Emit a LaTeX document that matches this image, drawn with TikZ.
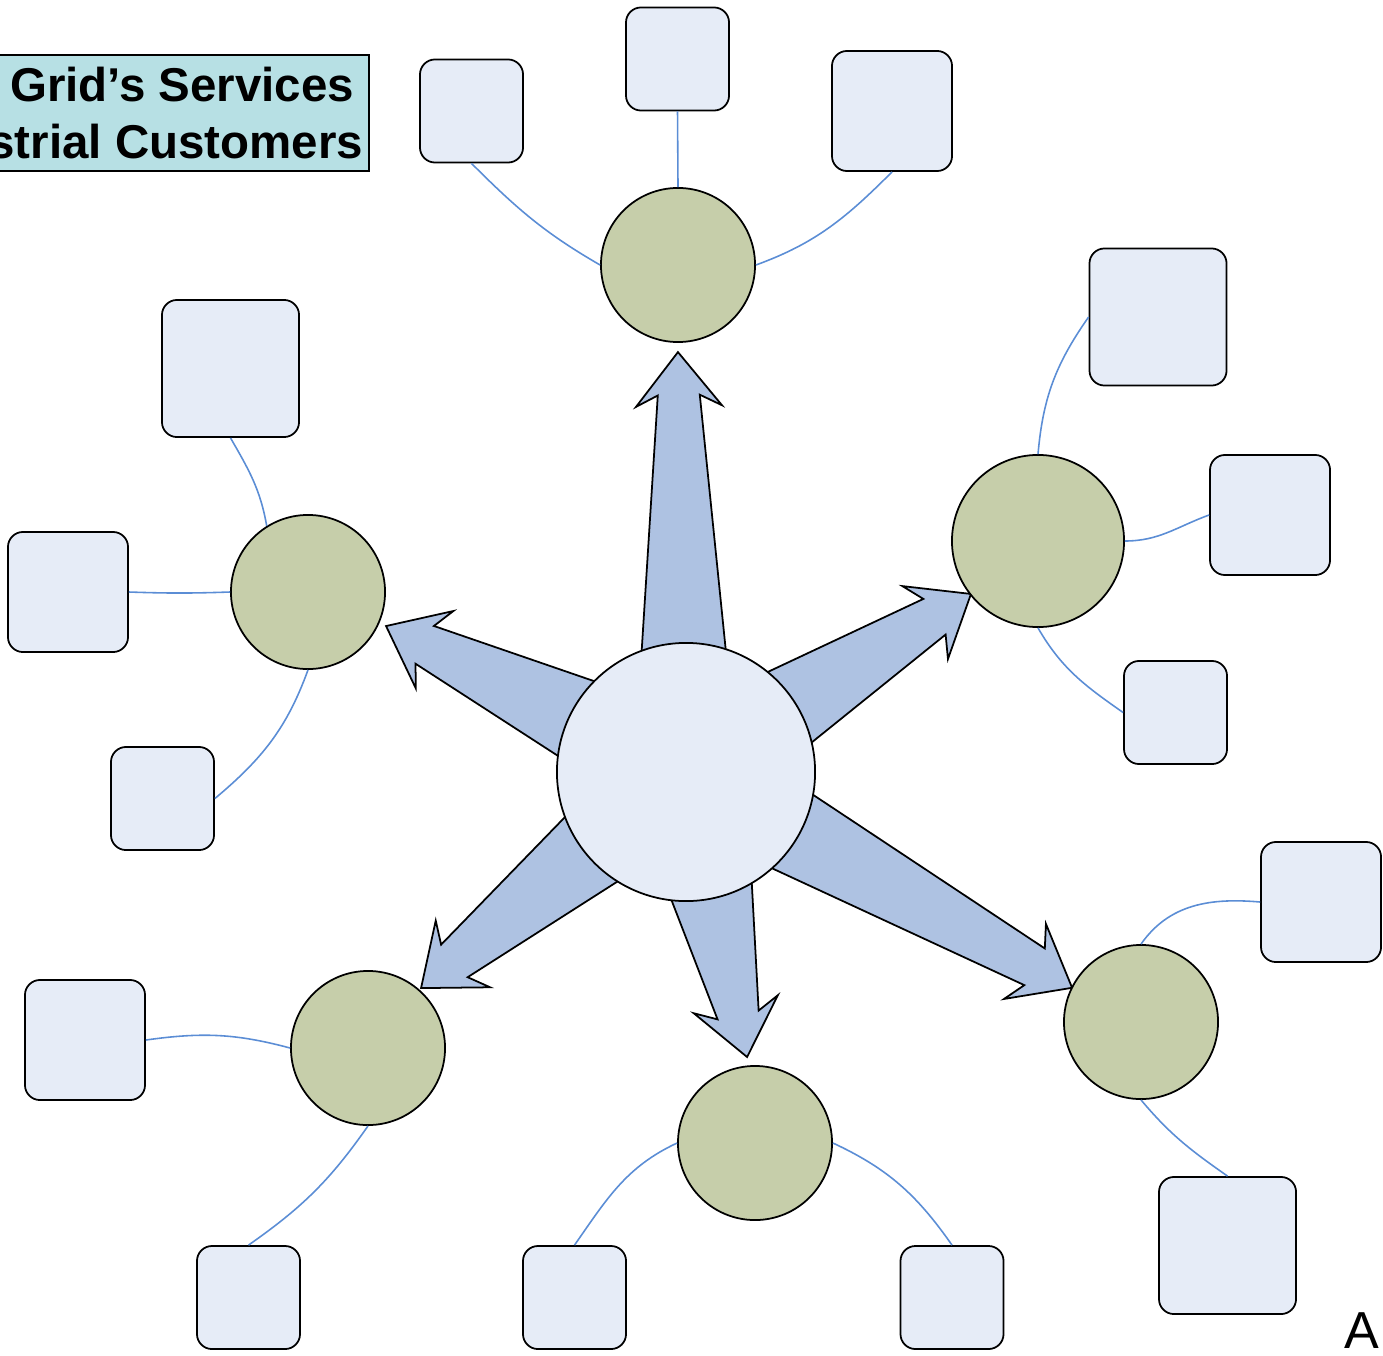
\documentclass[tikz,border=0pt]{standalone}
\usepackage{fontspec}
\setmainfont{Liberation Sans}
\usepackage{xcolor}
\usepackage{tikz}
\definecolor{srvfill}{RGB}{230,236,247}
\definecolor{hubfill}{RGB}{198,206,170}
\definecolor{spokefill}{RGB}{174,194,226}
\definecolor{linkcol}{RGB}{91,141,213}
\definecolor{titlefill}{RGB}{183,224,228}
\tikzstyle{srv} =[draw,line width=.5pt,fill=srvfill,rounded corners=1.5mm,inner sep=0pt]
\tikzstyle{srvs}=[srv,minimum size=1.03cm]
\tikzstyle{srvm}=[srv,minimum size=1.2cm]
\tikzstyle{srvl}=[srv,minimum size=1.37cm]
\tikzstyle{hub} =[draw,line width=.5pt,circle,fill=hubfill,minimum size=1.54cm,inner sep=0pt]
\tikzstyle{core}=[draw,line width=.5pt,circle,fill=srvfill,minimum size=2.58cm,inner sep=0pt]
\tikzstyle{spoke}=[draw,line width=.5pt,fill=spokefill,line join=miter]
\tikzstyle{link}=[line width=.45pt,draw=linkcol]
\tikzstyle{title}=[draw,line width=.5pt,fill=titlefill,align=right,inner xsep=.6mm,
  minimum height=1.14cm,font=\bfseries\fontsize{13.5}{16.2}\selectfont]
\newcommand\arrowspoke[2]{%
  \begin{scope}[shift={(c)},rotate=#1]
    \path[spoke] (110,43) -- (#2-43,21) -- (#2-54,43) -- (#2,0)
      -- (#2-54,-43) -- (#2-43,-21) -- (110,-43) -- cycle;
  \end{scope}}

\begin{document}
\begin{tikzpicture}[x=0.01cm,y=0.01cm]
	\useasboundingbox (0,0) rectangle (1383,-1355);
	\coordinate (c) at (686,-772);
	\foreach \a/\l in {91.1/420,32/336,154.05/333.6,219.2/341.9,282.1/291.5,330.8/442.3}
	  {\arrowspoke{\a}{\l}}
	\node[core] (core) at (c) {};
	\node[hub] (gt)  at (678,-265)  {};
	\node[hub,minimum size=1.72cm] (gr) at (1038,-541) {};
	\node[hub] (gl)  at (308,-592)  {};
	\node[hub] (gbl) at (368,-1048) {};
	\node[hub] (gb)  at (755,-1143) {};
	\node[hub] (gbr) at (1141,-1022) {};
	\node[srvs] (t1) at (471.5,-111) {};
	\node[srvs] (t2) at (677.5,-59)  {};
	\node[srvm] (t3) at (892,-111)   {};
	\node[srvl] (r1) at (1158,-317)  {};
	\node[srvm] (r2) at (1270,-515)  {};
	\node[srvs] (r3) at (1175.5,-712.5) {};
	\node[srvl] (l1) at (230.5,-368.5) {};
	\node[srvm] (l2) at (68,-592)    {};
	\node[srvs] (l3) at (162.5,-798.5) {};
	\node[srvm] (br1) at (1321,-902) {};
	\node[srvl] (br2) at (1227.5,-1245.5) {};
	\node[srvs] (b1) at (574.5,-1297.5) {};
	\node[srvs] (b2) at (952,-1297.5) {};
	\node[srvm] (bl1) at (85,-1040) {};
	\node[srvs] (bl2) at (248.5,-1297.5) {};
	\draw[link] (t1.south) to[out=-45,in=150] (gt.west);
	\draw[link] (t2.south) -- (gt.north);
	\draw[link] (t3.south) to[out=-135,in=20] (gt.east);
	\draw[link] (gr.north) to[out=85,in=235] (r1.west);
	\draw[link] (gr.east) to[out=0,in=200] (r2.west);
	\draw[link] (gr.south) to[out=-60,in=145] (r3.west);
	\draw[link] (l1.south) to[out=-60,in=100] (gl.122);
	\draw[link] (l2.east) to[out=-2,in=182] (gl.west);
	\draw[link] (l3.east) to[out=40,in=250] (gl.south);
	\draw[link] (gbr.north) to[out=55,in=175] (br1.west);
	\draw[link] (gbr.south) to[out=-50,in=145] (br2.north);
	\draw[link] (b1.north) to[out=55,in=205] (gb.west);
	\draw[link] (b2.north) to[out=125,in=-25] (gb.east);
	\draw[link] (bl1.east) to[out=8,in=165] (gbl.west);
	\draw[link] (bl2.north) to[out=35,in=235] (gbl.south);
	\node[title,anchor=east] (ttl) at (370,-113) {Grid’s Services\hspace*{.9mm}\\strial Customers};
	\node[anchor=base east,inner sep=0pt,font=\fontsize{14.8}{16}\selectfont] (tag) at (1380,-1348) {A};
\end{tikzpicture}
\end{document}
